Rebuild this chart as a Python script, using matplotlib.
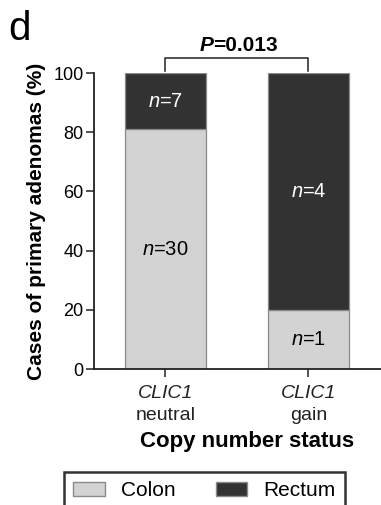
import matplotlib.pyplot as plt
from matplotlib.patches import Patch

plt.rcParams['font.family'] = ['Liberation Sans', 'DejaVu Sans']
plt.rcParams['mathtext.fontset'] = 'custom'
plt.rcParams['mathtext.rm'] = 'Liberation Sans'
plt.rcParams['mathtext.it'] = 'Liberation Sans:italic'
plt.rcParams['mathtext.bf'] = 'Liberation Sans:bold'

groups = ['neutral', 'gain']
gene = 'CLIC1'
colon_pct = [81.08, 20.0]
rectum_pct = [18.92, 80.0]
colon_n = [30, 1]
rectum_n = [7, 4]
p_value = '0.013'

colon_col = '#d3d3d3'
rectum_col = '#323232'
edge_col = '#8a8a8a'

W, H = 381, 505
fig = plt.figure(figsize=(W / 100, H / 100), dpi=100)
# axes runs past the right edge like the cropped original
ax = fig.add_axes([94 / W, (H - 369) / H, 306 / W, 296 / H])

x = [0, 1]
ax.bar(x, colon_pct, width=0.56, color=colon_col, edgecolor=edge_col, linewidth=0.9)
ax.bar(x, rectum_pct, width=0.56, bottom=colon_pct, color=rectum_col,
       edgecolor=edge_col, linewidth=0.9)

for i in range(2):
    ax.text(x[i], colon_pct[i] + rectum_pct[i] / 2, '$\\mathit{n}$=%d' % rectum_n[i],
            color='white', ha='center', va='center', fontsize=14.5)
    ax.text(x[i], colon_pct[i] / 2, '$\\mathit{n}$=%d' % colon_n[i],
            color='black', ha='center', va='center', fontsize=14.5)

ax.set_xlim(-0.5, 1.64)
ax.set_ylim(0, 100)
ax.set_yticks([0, 20, 40, 60, 80, 100])
ax.set_xticks(x)
ax.set_xticklabels([])
ax.tick_params(axis='y', labelsize=13, length=6, width=1.1, pad=1.5, color='#222222')
ax.tick_params(axis='x', length=6, width=1.1, color='#222222')
for s in ['top', 'right']:
    ax.spines[s].set_visible(False)
for s in ['left', 'bottom']:
    ax.spines[s].set_linewidth(1.3)
    ax.spines[s].set_color('#222222')

# two-line tick labels: italic gene name over status
for i, g in enumerate(groups):
    ax.annotate(gene, xy=(x[i], 0), xycoords=('data', 'axes fraction'),
                xytext=(0, -29), textcoords='offset pixels', ha='center',
                va='baseline', fontsize=14, style='italic', color='#222222')
    ax.annotate(g, xy=(x[i], 0), xycoords=('data', 'axes fraction'),
                xytext=(0, -51), textcoords='offset pixels', ha='center',
                va='baseline', fontsize=14, color='#222222')

ax.annotate('Copy number status', xy=(0.5, 0), xycoords='axes fraction',
            xytext=(0, -78), textcoords='offset pixels', ha='center',
            va='baseline', fontsize=16, fontweight='bold')

ax.set_ylabel('Cases of primary adenomas (%)', fontsize=15, fontweight='bold', labelpad=5)

# significance bracket
ax.plot([0, 0, 1, 1], [100.8, 105.2, 105.2, 100.8], color='#222222', lw=1.1, clip_on=False)
ax.annotate('P', xy=(0.335, 105.2), xycoords='data', annotation_clip=False,
            xytext=(0, 7), textcoords='offset pixels', ha='right', va='baseline',
            fontsize=15, fontweight='bold', style='italic')
ax.annotate('=' + p_value, xy=(0.335, 105.2), xycoords='data', annotation_clip=False,
            xytext=(0, 7), textcoords='offset pixels', ha='left', va='baseline',
            fontsize=15, fontweight='bold')

fig.text(8 / W, 1 - 40 / H, 'd', fontsize=29, va='baseline', ha='left')

handles = [Patch(facecolor=colon_col, edgecolor=edge_col, label='Colon'),
           Patch(facecolor=rectum_col, edgecolor=edge_col, label='Rectum')]
leg = fig.legend(handles=handles, loc='upper left', bbox_to_anchor=(64 / W, 1 - 472 / H),
                 ncol=2, fontsize=15, frameon=True, fancybox=False,
                 handlelength=1.5, handleheight=0.6, handletextpad=0.8,
                 columnspacing=1.9, borderpad=0.45, borderaxespad=0,
                 edgecolor='black')
leg.get_frame().set_linewidth(1.8)

fig.savefig('out.png', dpi=100)
